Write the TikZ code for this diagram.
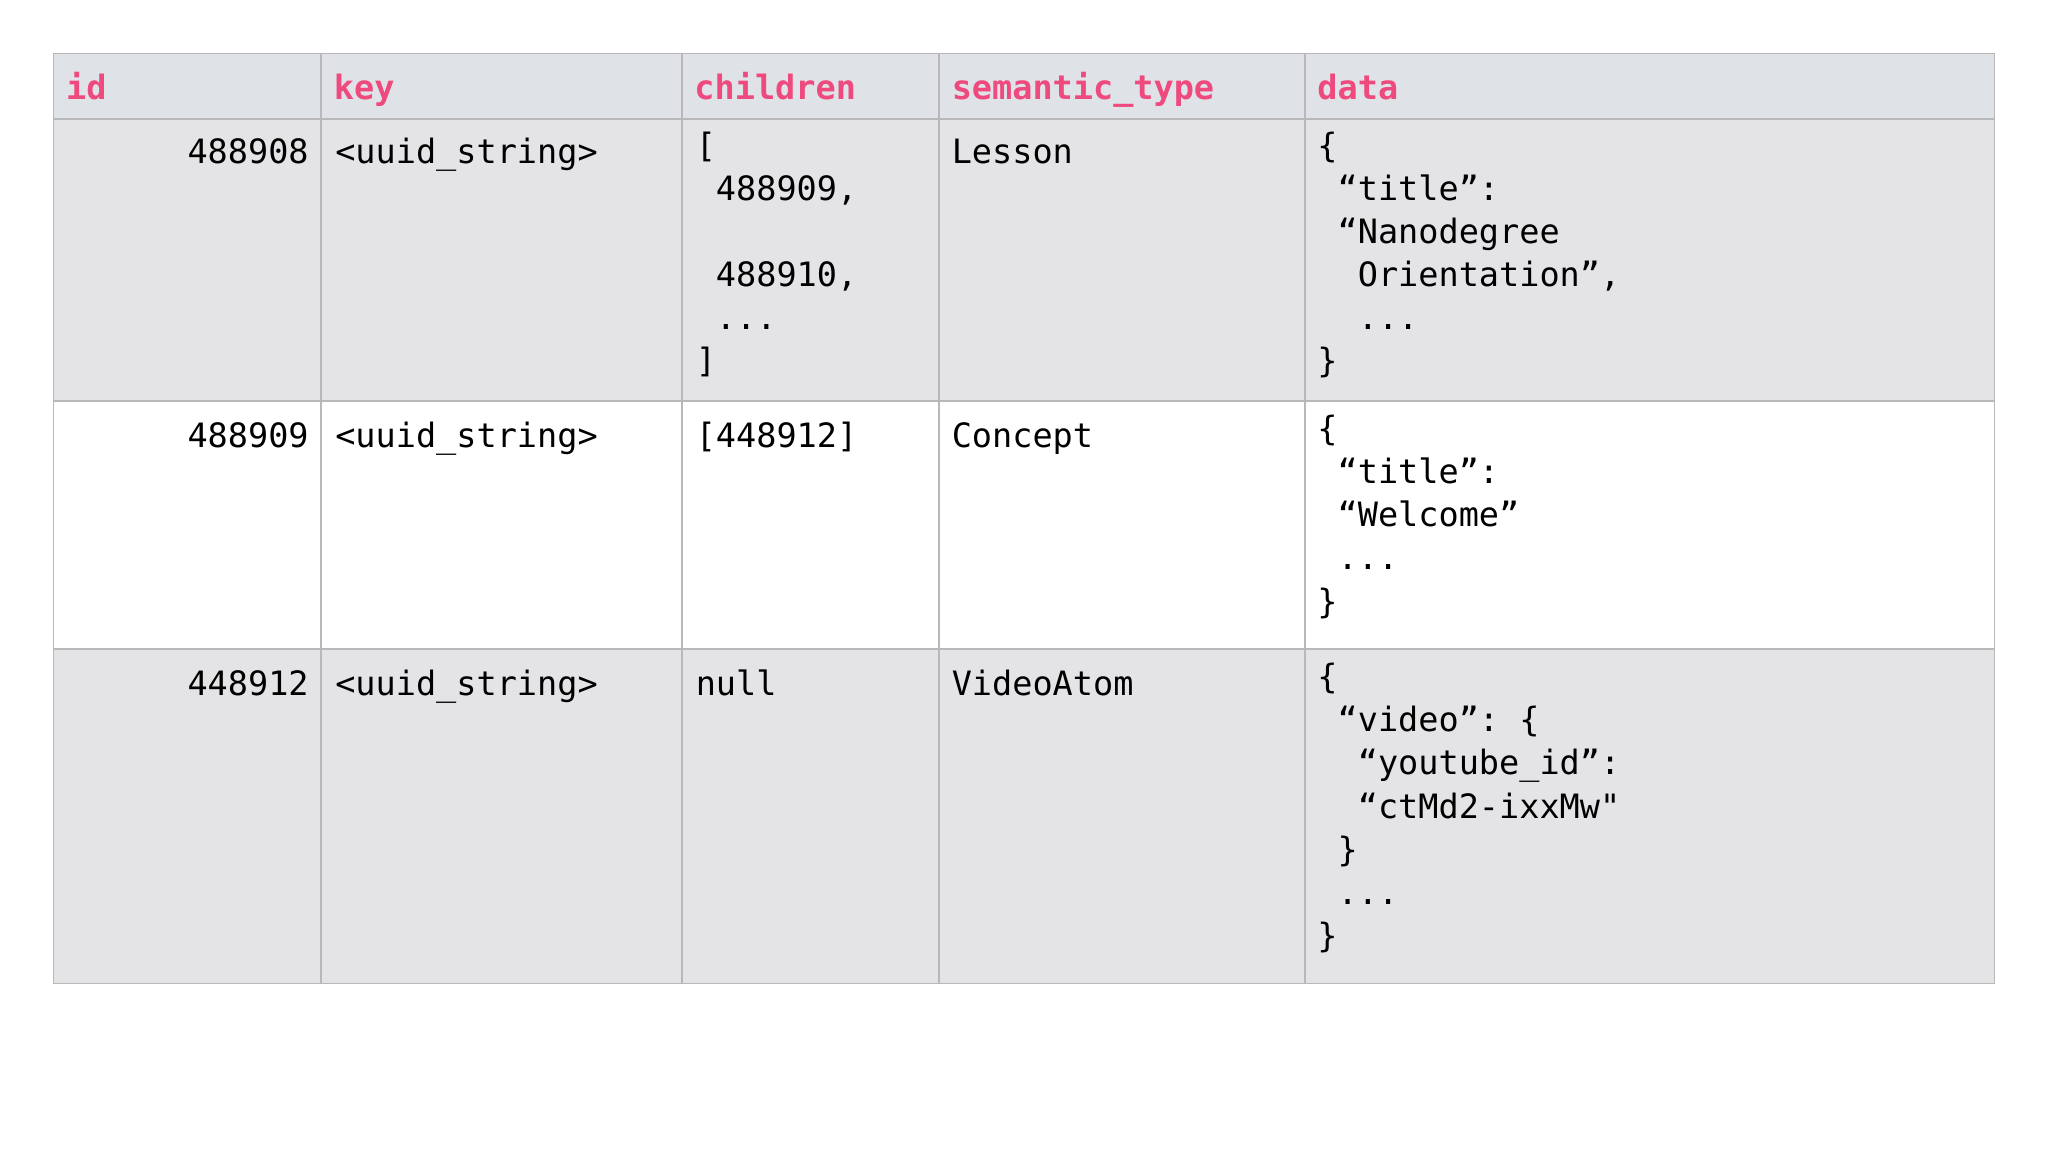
\documentclass[tikz,border=0pt]{standalone}
\usepackage{fontspec}
\setmonofont{DejaVu Sans Mono}
\definecolor{headgray}{HTML}{DFE2E7}
\definecolor{rowgray}{HTML}{E4E4E7}
\definecolor{keypink}{HTML}{EE4A7E}
\definecolor{rulegray}{HTML}{B8B8B8}
\newcommand{\ind}[1]{\hspace*{#1\fontcharwd\font`0}}
\tikzset{
  cell/.style={anchor=north west, inner sep=0pt, align=left,
    execute at begin node={\rule{0pt}{7pt}},
    font=\ttfamily\fontsize{7.3}{9.4}\selectfont},
  idcell/.style={cell, anchor=north east, align=right},
  head/.style={cell, font=\ttfamily\bfseries\fontsize{7.3}{9.4}\selectfont, text=keypink}
}
\begin{document}
\begin{tikzpicture}[x=0.01cm,y=-0.01cm]
\useasboundingbox (0,0) rectangle (1568,882);
% backgrounds
\fill[headgray] (41,41) rectangle (1527,91);
\fill[rowgray] (41,91) rectangle (1527,307);
\fill[rowgray] (41,497) rectangle (1527,753);
% grid
\draw[rulegray, line width=0.4pt] (41,41) rectangle (1527,753);
\foreach \y in {91,307,497}
    \draw[rulegray, line width=0.4pt] (41,\y) -- (1527,\y);
\foreach \x in {246,522,719,999}
    \draw[rulegray, line width=0.4pt] (\x,41) -- (\x,753);

% header
\node[head] (hid)  at (50,51)   {id};
\node[head] (hkey) at (255,51)  {key};
\node[head] (hch)  at (531,51)  {children};
\node[head] (hsem) at (728,51)  {semantic\_type};
\node[head] (hdat) at (1008,51) {data};

% row 1
\node[idcell] (id1)  at (237,100)  {488908};
\node[cell]   (key1) at (256,100)  {<uuid\_string>};
\node[cell]   (ch1)  at (532,100)  {[\\ \ind{1}488909,\\ \mbox{}\\ \ind{1}488910,\\ \ind{1}...\\ ]};
\node[cell]   (sem1) at (728,100)  {Lesson};
\node[cell]   (dat1) at (1008,100) {\{\\ \ind{1}“title”:\\ \ind{1}“Nanodegree\\ \ind{2}Orientation”,\\ \ind{2}...\\ \}};

% row 2
\node[idcell] (id2)  at (237,317)  {488909};
\node[cell]   (key2) at (256,317)  {<uuid\_string>};
\node[cell]   (ch2)  at (532,317)  {[448912]};
\node[cell]   (sem2) at (728,317)  {Concept};
\node[cell]   (dat2) at (1008,317) {\{\\ \ind{1}“title”:\\ \ind{1}“Welcome”\\ \ind{1}...\\ \}};

% row 3
\node[idcell] (id3)  at (237,507)  {448912};
\node[cell]   (key3) at (256,507)  {<uuid\_string>};
\node[cell]   (ch3)  at (532,507)  {null};
\node[cell]   (sem3) at (728,507)  {VideoAtom};
\node[cell]   (dat3) at (1008,507) {\{\\ \ind{1}“video”: \{\\ \ind{2}“youtube\_id”:\\ \ind{2}“ctMd2-ixxMw"\\ \ind{1}\}\\ \ind{1}...\\ \}};
\end{tikzpicture}
\end{document}
